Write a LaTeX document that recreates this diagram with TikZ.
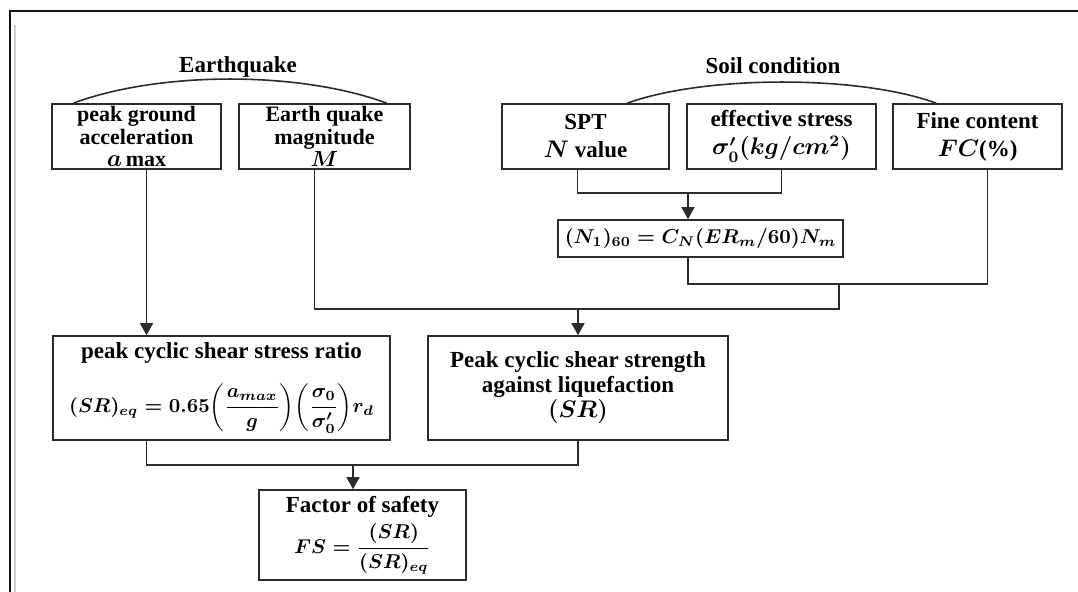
\documentclass[tikz,border=0pt]{standalone}
\usepackage{amsmath}
\usepackage{fontspec}
\setmainfont{Liberation Serif}
\usetikzlibrary{arrows.meta}
\definecolor{inkc}{HTML}{2B2B2B}
\definecolor{framec}{HTML}{111111}
\definecolor{shadec}{HTML}{CFCFCF}
\newcommand{\eqsize}{\fontsize{9.8}{12}\selectfont}

\begin{document}
\begin{tikzpicture}[
  x=0.5pt, y=-0.5pt,
  box/.style={draw=inkc, line width=0.8pt, align=center, inner sep=0pt,
              font=\fontsize{11.5}{12.5}\selectfont\bfseries\boldmath},
  tight/.style={box, font=\fontsize{11}{11.2}\selectfont\bfseries\boldmath},
  grp/.style={font=\fontsize{11.5}{13}\selectfont\bfseries},
  link/.style={draw=inkc, line width=0.8pt},
  >={Triangle[length=6pt, width=6.5pt]}
]
\useasboundingbox (0,0) rectangle (1078,592);
\draw[framec, line width=1pt] (10,592) -- (10,11) -- (1078,11);
\draw[shadec, line width=1pt] (15,592) -- (15,25);

% input groups
\node[grp] (eqlbl)   at (238,67) {Earthquake};
\node[grp] (soillbl) at (773,66) {Soil condition};

\node[tight, minimum width=84.5pt, minimum height=32.5pt] (pga) at (136.5,136.5)
  {peak ground\\acceleration\\{\fontsize{13}{10}\selectfont$a$}\,max};
\node[tight, minimum width=85.5pt, minimum height=32.5pt] (eqm) at (324.5,136.5)
  {Earth quake\\magnitude\\$M$};
\node[box, minimum width=83.5pt, minimum height=32.5pt] (spt) at (585.5,136.5)
  {SPT\\[1.5pt]$N$ value};
\node[box, minimum width=94.5pt, minimum height=32.5pt] (eff) at (781.5,136.5)
  {effective stress\\[1.5pt]$\sigma'_0(kg/cm^2)$};
\node[box, minimum width=84.5pt, minimum height=32.5pt] (fc) at (977.5,136.5)
  {Fine content\\[1.5pt]$FC$(\%)};

\node[box, minimum width=142.5pt, minimum height=18.5pt] (n1) at (700.5,238.5)
  {\eqsize$(N_1)_{60} = C_N(ER_m/60)N_m$};

% results
\node[box, minimum width=168.5pt, minimum height=52pt] (ratio) at (221.5,388)
  {peak cyclic shear stress ratio\\[9pt]
   \eqsize$(SR)_{eq} = 0.65\biggl(\dfrac{a_{max}}{g}\biggr)\biggl(\dfrac{\sigma_0}{\sigma'_0}\biggr) r_d$};
\node[box, minimum width=150pt, minimum height=52pt] (sr) at (578,388)
  {Peak cyclic shear strength\\against liquefaction\\$(SR)$};
\node[box, minimum width=103.5pt, minimum height=45pt] (fs) at (362.5,535)
  {Factor of safety\\[2pt]\eqsize$FS = \dfrac{(SR)}{(SR)_{eq}}$};

% group arcs
\draw[link] ([xshift=11pt]pga.north west) .. controls (160,71) and (300,71) .. ([xshift=-12pt]eqm.north east);
\draw[link] ([xshift=63pt]spt.north west) .. controls (705,75) and (860,75) .. ([xshift=22pt]fc.north west);

% connectors
\coordinate (sj) at (688,193);
\coordinate (nj) at (839,284);
\coordinate (ej) at (578,309);
\coordinate (fj) at (353,465);
\draw[link] ([xshift=-4pt]spt.south) |- (sj) -| (eff.south);
\draw[link, ->] (sj) -- (sj |- n1.north);
\draw[link] (sj |- n1.south) |- (nj) -| ([xshift=5pt]fc.south);
\draw[link] ([xshift=-5pt]eqm.south) |- (ej) -| (nj);
\draw[link, ->] (ej) -- (sr.north);
\draw[link, ->] ([xshift=5pt]pga.south) -- ([xshift=5pt]pga.south |- ratio.north);
\draw[link] ([xshift=5pt]pga.south |- ratio.south) |- (fj) -| (sr.south);
\draw[link, ->] (fj) -- (fj |- fs.north);
\end{tikzpicture}
\end{document}
